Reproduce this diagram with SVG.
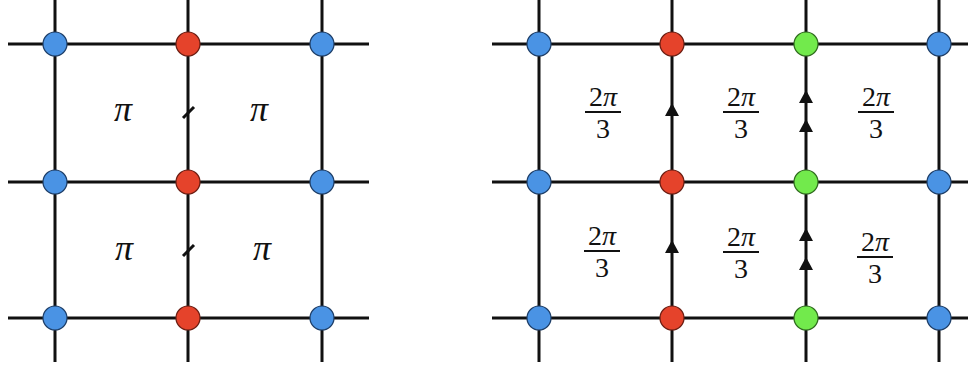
<svg xmlns="http://www.w3.org/2000/svg" width="968" height="367" viewBox="0 0 968 367">
<style>
.ln{stroke:#111;stroke-width:3;fill:none}
.tk{stroke:#111;stroke-width:3;fill:none}
.b{fill:#4A93E4;stroke:#1d3d66;stroke-width:1.2}
.r{fill:#E5432B;stroke:#6a1d12;stroke-width:1.2}
.g{fill:#72EA4C;stroke:#2f6a1e;stroke-width:1.2}
.pi{font-family:"Liberation Serif","DejaVu Serif",serif;font-style:italic;font-size:36px;text-anchor:middle;fill:#111}
.fr{font-family:"Liberation Serif","DejaVu Serif",serif;font-size:28px;text-anchor:middle;fill:#111}
.fi{font-style:italic}
.bar{stroke:#111;stroke-width:1.8}
</style>
<defs>
<path id="ah" d="M0,-7 L7,6 L-7,6 Z" fill="#111"/>
</defs>
<rect width="968" height="367" fill="#fff"/>
<g id="connectors">
<!-- left panel -->
<line class="ln" x1="8" y1="44" x2="369" y2="44"/>
<line class="ln" x1="8" y1="182" x2="369" y2="182"/>
<line class="ln" x1="8" y1="318" x2="369" y2="318"/>
<line class="ln" x1="55" y1="0" x2="55" y2="362"/>
<line class="ln" x1="188" y1="0" x2="188" y2="362"/>
<line class="ln" x1="322" y1="0" x2="322" y2="362"/>
<line class="tk" x1="183" y1="118" x2="194" y2="107"/>
<line class="tk" x1="183" y1="256" x2="194" y2="245"/>
<!-- right panel -->
<line class="ln" x1="492" y1="44" x2="968" y2="44"/>
<line class="ln" x1="492" y1="182" x2="968" y2="182"/>
<line class="ln" x1="492" y1="318" x2="968" y2="318"/>
<line class="ln" x1="539" y1="0" x2="539" y2="362"/>
<line class="ln" x1="672" y1="0" x2="672" y2="362"/>
<line class="ln" x1="806" y1="0" x2="806" y2="362"/>
<line class="ln" x1="939" y1="0" x2="939" y2="362"/>
<use href="#ah" x="672" y="110"/>
<use href="#ah" x="672" y="247"/>
<use href="#ah" x="806" y="97"/>
<use href="#ah" x="806" y="126"/>
<use href="#ah" x="806" y="235"/>
<use href="#ah" x="806" y="264"/>
</g>
<g id="labels-left">
<text class="pi" x="123" y="121">π</text>
<text class="pi" x="259" y="121">π</text>
<text class="pi" x="124" y="260">π</text>
<text class="pi" x="262" y="260">π</text>
</g>
<g id="labels-right">
<g id="f1"><text class="fr" x="603" y="106">2<tspan class="fi">π</tspan></text><line class="bar" x1="585" y1="112" x2="621" y2="112"/><text class="fr" x="603" y="138">3</text></g>
<g id="f2"><text class="fr" x="741" y="106">2<tspan class="fi">π</tspan></text><line class="bar" x1="723" y1="112" x2="759" y2="112"/><text class="fr" x="741" y="138">3</text></g>
<g id="f3"><text class="fr" x="876" y="106">2<tspan class="fi">π</tspan></text><line class="bar" x1="858" y1="112" x2="894" y2="112"/><text class="fr" x="876" y="138">3</text></g>
<g id="f4"><text class="fr" x="602" y="245">2<tspan class="fi">π</tspan></text><line class="bar" x1="584" y1="251" x2="620" y2="251"/><text class="fr" x="602" y="277">3</text></g>
<g id="f5"><text class="fr" x="741" y="246">2<tspan class="fi">π</tspan></text><line class="bar" x1="723" y1="252" x2="759" y2="252"/><text class="fr" x="741" y="278">3</text></g>
<g id="f6"><text class="fr" x="875" y="251">2<tspan class="fi">π</tspan></text><line class="bar" x1="857" y1="257" x2="893" y2="257"/><text class="fr" x="875" y="283">3</text></g>
</g>
<g id="nodes-left">
<g id="nL11"><circle class="b" cx="55" cy="44" r="12"/></g>
<g id="nL12"><circle class="r" cx="188" cy="44" r="12"/></g>
<g id="nL13"><circle class="b" cx="322" cy="44" r="12"/></g>
<g id="nL21"><circle class="b" cx="55" cy="182" r="12"/></g>
<g id="nL22"><circle class="r" cx="188" cy="182" r="12"/></g>
<g id="nL23"><circle class="b" cx="322" cy="182" r="12"/></g>
<g id="nL31"><circle class="b" cx="55" cy="318" r="12"/></g>
<g id="nL32"><circle class="r" cx="188" cy="318" r="12"/></g>
<g id="nL33"><circle class="b" cx="322" cy="318" r="12"/></g>
</g>
<g id="nodes-right">
<g id="nR11"><circle class="b" cx="539" cy="44" r="12"/></g>
<g id="nR12"><circle class="r" cx="672" cy="44" r="12"/></g>
<g id="nR13"><circle class="g" cx="806" cy="44" r="12"/></g>
<g id="nR14"><circle class="b" cx="939" cy="44" r="12"/></g>
<g id="nR21"><circle class="b" cx="539" cy="182" r="12"/></g>
<g id="nR22"><circle class="r" cx="672" cy="182" r="12"/></g>
<g id="nR23"><circle class="g" cx="806" cy="182" r="12"/></g>
<g id="nR24"><circle class="b" cx="939" cy="182" r="12"/></g>
<g id="nR31"><circle class="b" cx="539" cy="318" r="12"/></g>
<g id="nR32"><circle class="r" cx="672" cy="318" r="12"/></g>
<g id="nR33"><circle class="g" cx="806" cy="318" r="12"/></g>
<g id="nR34"><circle class="b" cx="939" cy="318" r="12"/></g>
</g>
</svg>
